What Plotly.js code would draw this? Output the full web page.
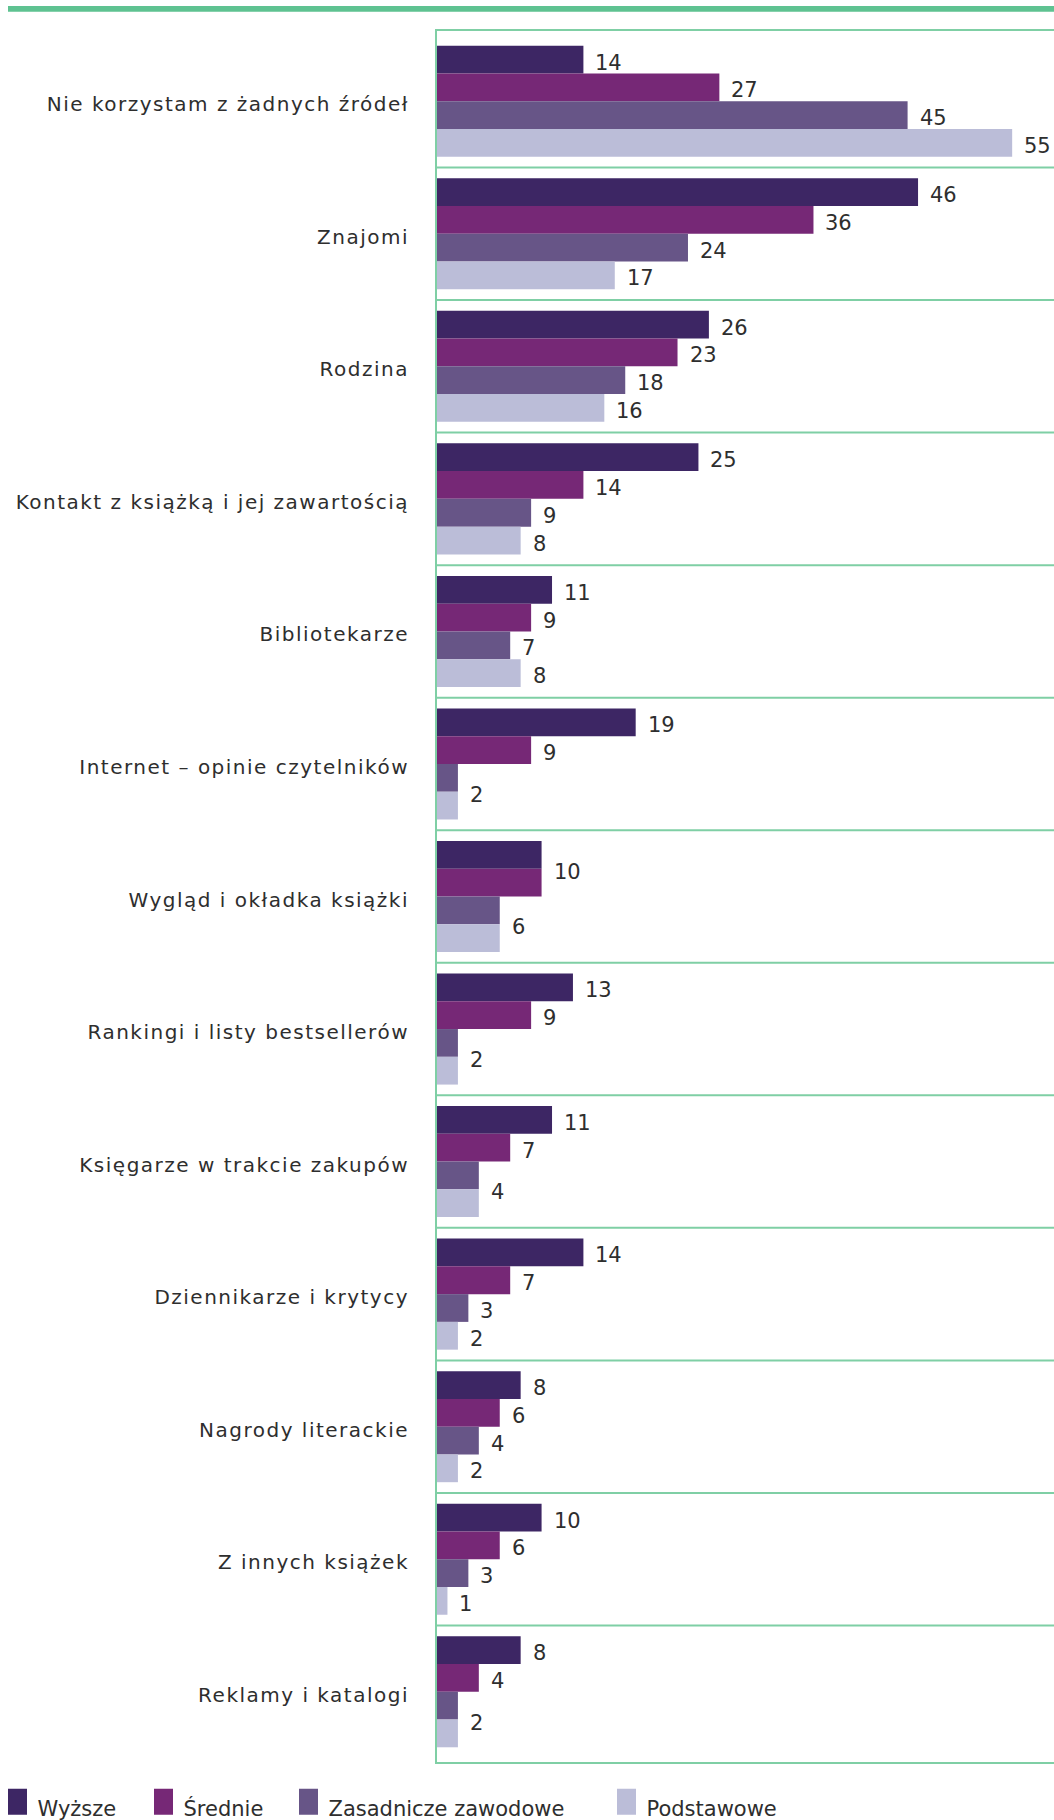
<!DOCTYPE html>
<html>
<head>
<meta charset="utf-8">
<script src="https://cdn.plot.ly/plotly-3.0.1.min.js"></script>
<style>
html,body{margin:0;padding:0;background:#fff;}
#chart .ytick text{letter-spacing:1.5px;}
</style>
</head>
<body>
<div id="chart" style="width:1054px;height:1820px;"></div>
<script>
const categories = [
  "Nie korzystam z żadnych źródeł",
  "Znajomi",
  "Rodzina",
  "Kontakt z książką i jej zawartością",
  "Bibliotekarze",
  "Internet – opinie czytelników",
  "Wygląd i okładka książki",
  "Rankingi i listy bestsellerów",
  "Księgarze w trakcie zakupów",
  "Dziennikarze i krytycy",
  "Nagrody literackie",
  "Z innych książek",
  "Reklamy i katalogi"
];
const seriesNames = ["Wyższe", "Średnie", "Zasadnicze zawodowe", "Podstawowe"];
const wyzsze      = [14, 46, 26, 25, 11, 19, 10, 13, 11, 14, 8, 10, 8];
const srednie     = [27, 36, 23, 14,  9,  9, 10,  9,  7,  7, 6,  6, 4];
const zasadnicze  = [45, 24, 18,  9,  7,  2,  6,  2,  4,  3, 4,  3, 2];
const podstawowe  = [55, 17, 16,  8,  8,  2,  6,  2,  4,  2, 2,  1, 2];
const seriesValues = [wyzsze, srednie, zasadnicze, podstawowe];
const colors = ["#3d2664", "#762876", "#675587", "#bbbdd8"];

const GREEN = "#7fcfa5";
const BARGAP = 0.162;
const EDGE = 0.03;
const FONT = "DejaVu Sans";
const TXT = "#2e2e2e";
const W = 1054, H = 1820, ML = 437, MT = 31, MB = 58;
const PW = W - ML, PH = H - MT - MB;
// legend swatch centres (px from the left edge of the page)
const legendCentres = [17.5, 163.5, 308.5, 626.5];
const legendIds = ["legend", "legend2", "legend3", "legend4"];

const traces = seriesValues.map((vals, i) => ({
  type: "bar",
  orientation: "h",
  name: seriesNames[i],
  legend: legendIds[i],
  y: categories,
  x: vals,
  marker: { color: colors[i], line: { width: 0 } },
  hoverinfo: "skip"
}));

// value labels; equal adjacent values share one label centred between the bars
const nS = seriesValues.length;
const barW = (1 - BARGAP) / nS;
const annotations = [];
categories.forEach((c, ci) => {
  for (let s = 0; s < nS; s++) {
    const v = seriesValues[s][ci];
    if (s > 0 && seriesValues[s - 1][ci] === v) continue;
    let pos = -(1 - BARGAP) / 2 + (s + 0.5) * barW;
    if (s < nS - 1 && seriesValues[s + 1][ci] === v) pos += barW / 2;
    annotations.push({
      x: v, y: ci + pos, xref: "x", yref: "y",
      text: String(v), showarrow: false,
      xanchor: "left", yanchor: "middle", xshift: 10, yshift: -3,
      font: { family: FONT, size: 21, color: TXT }
    });
  }
});

// separator lines between categories
const shapes = [];
for (let i = 0; i < categories.length - 1; i++) {
  shapes.push({
    type: "line", xref: "paper", yref: "y",
    x0: 0, x1: 1, y0: i + 0.5, y1: i + 0.5,
    line: { color: GREEN, width: 2 }, layer: "below"
  });
}
// thick green rule at the very top
shapes.push({
  type: "rect", xref: "paper", yref: "paper",
  x0: (8 - ML) / PW, x1: 1.0,
  y0: 1 + (MT - 11.7) / PH, y1: 1 + (MT - 6) / PH,
  fillcolor: "#5ec291", line: { width: 0 }
});

const layout = {
  width: W,
  height: H,
  margin: { l: ML, r: 0, t: MT, b: MB, pad: 0, autoexpand: false },
  paper_bgcolor: "#ffffff",
  plot_bgcolor: "#ffffff",
  font: { family: FONT, color: TXT, size: 21 },
  barmode: "group",
  bargap: BARGAP,
  bargroupgap: 0,
  showlegend: true,
  xaxis: {
    range: [0, 59],
    showgrid: false, zeroline: false, showticklabels: false,
    showline: true, mirror: true, linecolor: GREEN, linewidth: 2,
    fixedrange: true
  },
  yaxis: {
    type: "category",
    range: [categories.length - 0.5 + EDGE, -0.5 - EDGE],
    autorange: false,
    showgrid: false,
    showline: true, linecolor: GREEN, linewidth: 2,
    zeroline: false,
    ticks: "",
    ticklabelstandoff: 22,
    ticklabelshift: -3,
    tickfont: { family: FONT, size: 20, color: TXT },
    automargin: false,
    fixedrange: true
  },
  annotations: annotations,
  shapes: shapes
};
legendIds.forEach((id, i) => {
  layout[id] = {
    orientation: "h",
    xref: "paper", yref: "paper",
    x: (legendCentres[i] - 20 - ML) / PW,
    y: (0 - 25.5) / PH,
    xanchor: "left", yanchor: "top",
    font: { family: FONT, size: 21, color: TXT },
    bgcolor: "rgba(0,0,0,0)",
    borderwidth: 0
  };
});

Plotly.newPlot("chart", traces, layout, { displayModeBar: false, staticPlot: true }).then(() => {
  document.querySelectorAll(".legendpoints path").forEach(p => {
    p.setAttribute("d", "M-9.5,-19h19v26h-19Z");
  });
});
</script>
</body>
</html>
